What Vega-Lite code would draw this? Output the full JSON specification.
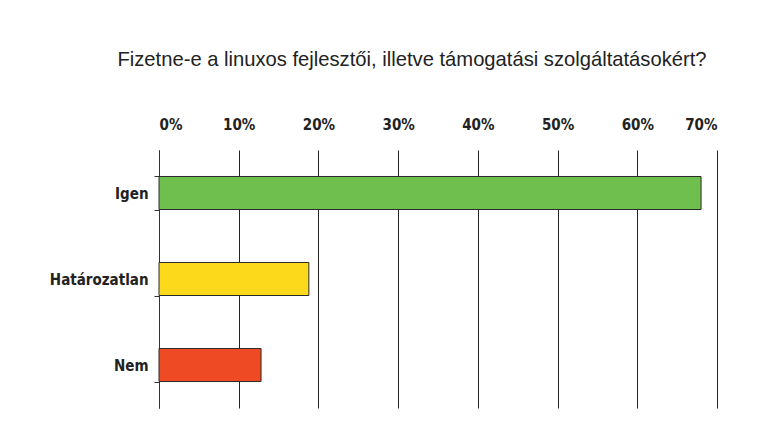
{
  "$schema": "https://vega.github.io/schema/vega-lite/v6.json",
  "autosize": {"type": "none"},
  "width": 558,
  "height": 258,
  "padding": {"left": 159, "top": 150, "right": 44, "bottom": 33},
  "background": "white",
  "title": {
    "text": "Fizetne-e a linuxos fejlesztői, illetve támogatási szolgáltatásokért?",
    "font": "Liberation Sans",
    "fontSize": 20.2,
    "fontWeight": "normal",
    "color": "#222222",
    "anchor": "middle",
    "frame": "group",
    "dx": -26,
    "baseline": "alphabetic",
    "offset": 31
  },
  "data": {
    "values": [
      {"valasz": "Igen", "arany": 68.0},
      {"valasz": "Határozatlan", "arany": 18.8},
      {"valasz": "Nem", "arany": 12.8}
    ]
  },
  "mark": {"type": "bar", "stroke": "#2a2a2a", "strokeWidth": 1},
  "encoding": {
    "y": {
      "field": "valasz",
      "type": "nominal",
      "sort": ["Igen", "Határozatlan", "Nem"],
      "scale": {"paddingInner": 0.616, "paddingOuter": 0.308},
      "axis": {
        "title": null,
        "tickBand": "extent",
        "grid": false,
        "domain": true,
        "domainColor": "#333333",
        "domainWidth": 1,
        "ticks": true,
        "tickColor": "#333333",
        "tickSize": 5,
        "labelFont": "DejaVu Sans Condensed",
        "labelFontWeight": "bold",
        "labelFontSize": 15,
        "labelColor": "#222222",
        "labelPadding": 6
      }
    },
    "x": {
      "field": "arany",
      "type": "quantitative",
      "scale": {"domain": [0, 70], "nice": false},
      "axis": {
        "orient": "top",
        "title": null,
        "values": [0, 10, 20, 30, 40, 50, 60, 70],
        "labelExpr": "datum.value + '%'",
        "grid": true,
        "gridColor": "#222222",
        "gridWidth": 1,
        "ticks": false,
        "domain": false,
        "labelFont": "DejaVu Sans Condensed",
        "labelFontWeight": "bold",
        "labelFontSize": 15,
        "labelColor": "#222222",
        "labelBaseline": "alphabetic",
        "labelPadding": 21
      }
    },
    "color": {
      "field": "valasz",
      "type": "nominal",
      "scale": {
        "domain": ["Igen", "Határozatlan", "Nem"],
        "range": ["#6fbf4e", "#fdd91c", "#ee4a23"]
      },
      "legend": null
    }
  },
  "config": {"view": {"stroke": null}}
}
